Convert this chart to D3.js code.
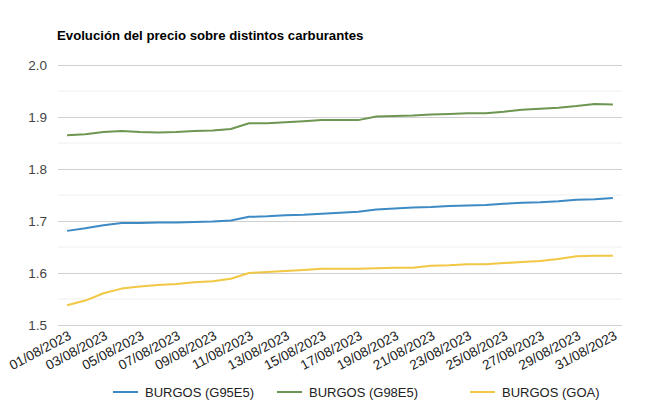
<!DOCTYPE html>
<html>
<head>
<meta charset="utf-8">
<script src="https://cdn.jsdelivr.net/npm/d3@7"></script>
<style>
  html, body { margin: 0; padding: 0; background: #fff; }
  svg { display: block; font-family: "Liberation Sans", Arial, sans-serif; }
</style>
</head>
<body>
<svg id="chart" width="650" height="413"></svg>
<script>
const title = "Evolución del precio sobre distintos carburantes";
const dates = [
  "01/08/2023","02/08/2023","03/08/2023","04/08/2023","05/08/2023","06/08/2023","07/08/2023","08/08/2023",
  "09/08/2023","10/08/2023","11/08/2023","12/08/2023","13/08/2023","14/08/2023","15/08/2023","16/08/2023",
  "17/08/2023","18/08/2023","19/08/2023","20/08/2023","21/08/2023","22/08/2023","23/08/2023","24/08/2023",
  "25/08/2023","26/08/2023","27/08/2023","28/08/2023","29/08/2023","30/08/2023","31/08/2023"
];
const seriesNames = ["BURGOS (G95E5)", "BURGOS (G98E5)", "BURGOS (GOA)"];
const g95e5 = [1.681,1.686,1.692,1.696,1.696,1.697,1.697,1.698,1.699,1.701,1.708,1.709,1.711,1.712,1.714,1.716,
  1.718,1.722,1.724,1.726,1.727,1.729,1.730,1.731,1.733,1.735,1.736,1.738,1.741,1.742,1.744];
const g98e5 = [1.865,1.867,1.871,1.873,1.871,1.870,1.871,1.873,1.874,1.877,1.888,1.888,1.890,1.892,1.894,1.894,
  1.894,1.901,1.902,1.903,1.905,1.906,1.907,1.907,1.910,1.914,1.916,1.918,1.921,1.925,1.924];
const goa = [1.538,1.547,1.561,1.570,1.574,1.577,1.579,1.582,1.584,1.589,1.600,1.602,1.604,1.606,1.608,1.608,
  1.608,1.609,1.610,1.610,1.614,1.615,1.617,1.617,1.619,1.621,1.623,1.627,1.632,1.633,1.633];
const yTicks = [1.5, 1.6, 1.7, 1.8, 1.9, 2.0];
const yMinorTicks = [1.55, 1.65, 1.75, 1.85, 1.95];
const colors = ["#3d8ac4", "#6d9650", "#f1c744"];

const svg = d3.select("#chart");
const margin = {left: 58, right: 28, top: 65, bottom: 88};
const W = 650, H = 413;

const x = d3.scalePoint().domain(dates).range([margin.left, W - margin.right]).padding(0.5);
const y = d3.scaleLinear().domain([1.5, 2.0]).range([H - margin.bottom, margin.top]);

// title
svg.append("text").attr("x", 57).attr("y", 40)
  .attr("font-size", 13.2).attr("font-weight", "bold").attr("fill", "#000")
  .text(title);

// gridlines
svg.append("g").selectAll("line.minor").data(yMinorTicks).join("line")
  .attr("x1", margin.left).attr("x2", W - margin.right)
  .attr("y1", d => y(d)).attr("y2", d => y(d))
  .attr("stroke", "#efefef").attr("stroke-width", 1);

const yAxis = d3.axisLeft(y).tickValues(yTicks).tickFormat(d3.format(".1f"))
  .tickSize(-(W - margin.left - margin.right)).tickPadding(11);
const ya = svg.append("g").attr("transform", `translate(${margin.left},0)`).call(yAxis);
ya.select(".domain").remove();
ya.selectAll(".tick line").attr("stroke", "#d0d0d0").attr("stroke-width", 1);
ya.selectAll(".tick text").attr("font-size", 13.5).attr("fill", "#444")
  .attr("font-family", "Liberation Sans, Arial, sans-serif");

// x axis labels
const xLabels = dates.filter((d, i) => i % 2 === 0);
const xAxis = d3.axisBottom(x).tickValues(xLabels).tickSize(0).tickPadding(0);
const xa = svg.append("g").attr("transform", `translate(0,${y(1.5) + 6})`).call(xAxis);
xa.select(".domain").remove();
xa.selectAll(".tick text")
  .attr("font-size", 13.5).attr("fill", "#222")
  .attr("font-family", "Liberation Sans, Arial, sans-serif")
  .attr("text-anchor", "end")
  .attr("dy", "0.71em")
  .attr("transform", "translate(0,-1) rotate(-28)");

// lines
const allSeries = [g95e5, g98e5, goa];
const line = d3.line().x((d, i) => x(dates[i])).y(d => y(d));
svg.append("g").selectAll("path").data(allSeries).join("path")
  .attr("d", d => line(d))
  .attr("fill", "none")
  .attr("stroke", (d, i) => colors[i])
  .attr("stroke-width", 2)
  .attr("stroke-linejoin", "round");

// legend
const legendX = [113, 277, 470];
const lg = svg.append("g").attr("transform", "translate(0,392)");
const items = lg.selectAll("g").data(seriesNames).join("g")
  .attr("transform", (d, i) => `translate(${legendX[i]},0)`);
items.append("line").attr("x1", 0).attr("x2", 25).attr("y1", 0).attr("y2", 0)
  .attr("stroke", (d, i) => colors[i]).attr("stroke-width", 2);
items.append("text").attr("x", 32).attr("y", 0).attr("dy", "0.35em")
  .attr("font-size", 13).attr("fill", "#222").text(d => d);
</script>
</body>
</html>
